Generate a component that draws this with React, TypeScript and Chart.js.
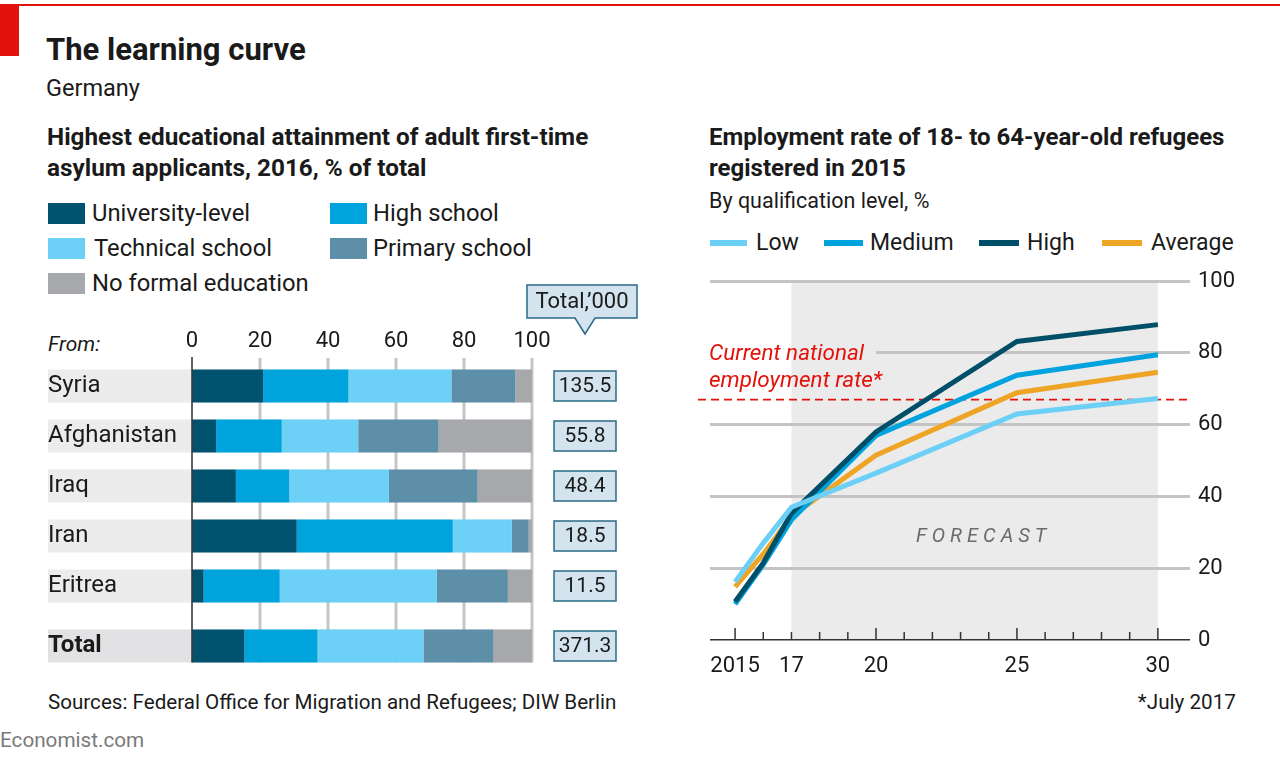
import React, { useEffect, useRef } from 'react';
import { Chart, registerables, CategoryScale } from 'chart.js';

Chart.register(...registerables);

// ---------- DATA ----------
const countries = ['Syria', 'Afghanistan', 'Iraq', 'Iran', 'Eritrea', 'Total'];
const university = [20.9, 7.1, 12.9, 30.8, 3.4, 15.4];
const highSchool = [25.1, 19.3, 15.7, 45.9, 22.4, 21.5];
const technical = [30.3, 22.5, 29.3, 17.4, 46.2, 31.2];
const primary = [18.8, 23.6, 26.1, 4.9, 20.9, 20.5];
const noFormal = [4.9, 27.5, 16.0, 1.0, 7.1, 11.4];
const totals = ['135.5', '55.8', '48.4', '18.5', '11.5', '371.3'];
const barTicks = [0, 20, 40, 60, 80, 100];

const years = [2015, 2016, 2017, 2020, 2025, 2030];
const lowRate = [16.2, 27, 37, 46.5, 63, 67.3];
const mediumRate = [10, 21, 33.5, 57, 73.8, 79.5];
const highRate = [10.7, 21.5, 35.3, 58, 83.2, 87.9];
const averageRate = [14.8, 24, 34.5, 51.5, 68.9, 74.6];
const xTickYears = [2015, 2017, 2020, 2025, 2030];
const xTickLabels = ['2015', '17', '20', '25', '30'];
const majorTickYears = [2015, 2020, 2025, 2030];
const nationalRate = 67;
const forecastStart = 2017;
const forecastEnd = 2030;

// ---------- STYLE ----------
const FONT = 'Roboto';
const C_UNI = '#01526f';
const C_HIGH = '#00a4dc';
const C_TECH = '#6dd0f6';
const C_PRIM = '#5d8fa8';
const C_NONE = '#a7a8ab';
const C_LOW = '#6ccff6';
const C_MED = '#00a3dd';
const C_HI = '#004f69';
const C_AVG = '#eea425';
const RED = '#e3120b';
const TEXT = '#1a1a1a';
const LAST_GAP = 0.2;

class GapCategoryScale extends CategoryScale {
  static id = 'gapCategory';
  getPixelForValue(value: any) {
    const me: any = this;
    if (typeof value !== 'number') value = me.parse(value);
    if (value === null || value === undefined || isNaN(value)) return NaN;
    const v = value >= me.max ? value + LAST_GAP : value;
    return me.getPixelForDecimal((v - me._startValue) / (me._valueRange + LAST_GAP));
  }
}
Chart.register(GapCategoryScale as any);

const leftPlugin = {
  id: 'leftPanel',
  beforeDraw(chart: any) {
    const ctx = chart.ctx;
    const y = chart.scales.y;
    const area = chart.chartArea;
    const meta = chart.getDatasetMeta(0);
    ctx.save();
    countries.forEach((_, i) => {
      const el: any = meta.data[i];
      const cy = y.getPixelForValue(i);
      const h = el ? el.height : 33;
      ctx.fillStyle = i === countries.length - 1 ? '#e2e2e4' : '#ececec';
      ctx.fillRect(48, cy - h / 2, area.right - 48, h);
    });
    ctx.restore();
  },
  beforeDatasetsDraw(chart: any) {
    const ctx = chart.ctx;
    const x = chart.scales.x;
    const y = chart.scales.y;
    const area = chart.chartArea;
    const meta = chart.getDatasetMeta(0);
    const lastEl: any = meta.data[countries.length - 1];
    const bottom = y.getPixelForValue(countries.length - 1) + (lastEl ? lastEl.height / 2 : 16);
    ctx.save();
    barTicks.forEach((t) => {
      const px = x.getPixelForValue(t);
      if (t === 0) return;
      ctx.strokeStyle = '#c6c6c6';
      ctx.lineWidth = 3;
      ctx.beginPath();
      ctx.moveTo(px, area.top - 3);
      ctx.lineTo(px, bottom);
      ctx.stroke();
    });
    ctx.restore();
  },
  afterDraw(chart: any) {
    const ctx = chart.ctx;
    const x = chart.scales.x;
    const y = chart.scales.y;
    const area = chart.chartArea;
    const meta = chart.getDatasetMeta(0);
    const lastEl: any = meta.data[countries.length - 1];
    const bottom = y.getPixelForValue(countries.length - 1) + (lastEl ? lastEl.height / 2 : 16);
    ctx.save();
    // zero axis
    const x0 = x.getPixelForValue(0);
    ctx.strokeStyle = '#3a3a3a';
    ctx.lineWidth = 1.6;
    ctx.beginPath();
    ctx.moveTo(x0, area.top - 4);
    ctx.lineTo(x0, bottom);
    ctx.stroke();
    // total boxes
    const bx = area.right + 53;
    ctx.font = `21px ${FONT}`;
    ctx.textAlign = 'center';
    ctx.textBaseline = 'middle';
    totals.forEach((t, i) => {
      const cy = y.getPixelForValue(i);
      ctx.fillStyle = '#d3e4ee';
      ctx.fillRect(bx - 31, cy - 15, 62, 30);
      ctx.strokeStyle = '#2a6a86';
      ctx.lineWidth = 1.5;
      ctx.strokeRect(bx - 31, cy - 15, 62, 30);
      ctx.fillStyle = TEXT;
      ctx.fillText(t, bx, cy + 1);
    });
    // callout
    const top = area.top - 76;
    ctx.beginPath();
    ctx.moveTo(bx - 58, top);
    ctx.lineTo(bx + 52, top);
    ctx.lineTo(bx + 52, top + 33);
    ctx.lineTo(bx + 10, top + 33);
    ctx.lineTo(bx, top + 49);
    ctx.lineTo(bx - 10, top + 33);
    ctx.lineTo(bx - 58, top + 33);
    ctx.closePath();
    ctx.fillStyle = '#d3e4ee';
    ctx.fill();
    ctx.strokeStyle = '#2a6a86';
    ctx.lineWidth = 1.5;
    ctx.stroke();
    ctx.fillStyle = TEXT;
    ctx.font = `22px ${FONT}`;
    ctx.fillText("Total,\u2019000", bx - 3, top + 17);
    ctx.restore();
  },
};

const rightPlugin = {
  id: 'rightPanel',
  beforeDraw(chart: any) {
    const ctx = chart.ctx;
    const x = chart.scales.x;
    const y = chart.scales.y;
    ctx.save();
    ctx.fillStyle = '#ebebeb';
    const x1 = x.getPixelForValue(forecastStart);
    const x2 = x.getPixelForValue(forecastEnd);
    ctx.fillRect(x1, y.getPixelForValue(100), x2 - x1, y.getPixelForValue(0) - y.getPixelForValue(100));
    ctx.restore();
  },
  beforeDatasetsDraw(chart: any) {
    const ctx = chart.ctx;
    const x = chart.scales.x;
    const y = chart.scales.y;
    const area = chart.chartArea;
    ctx.save();
    // erase gridline behind label
    const gy = y.getPixelForValue(80);
    const xf = x.getPixelForValue(forecastStart);
    const labelEnd = area.left + 166;
    ctx.fillStyle = '#ffffff';
    ctx.fillRect(area.left - 1, gy - 3, xf - area.left + 1, 6);
    ctx.fillStyle = '#ebebeb';
    ctx.fillRect(xf, gy - 3, labelEnd - xf, 6);
    // label
    ctx.fillStyle = RED;
    ctx.font = `italic 22.5px ${FONT}`;
    ctx.textAlign = 'left';
    ctx.textBaseline = 'middle';
    ctx.fillText('Current national', area.left - 1, gy + 1);
    ctx.fillText('employment rate*', area.left - 1, gy + 28);
    // dashed line
    const ry = y.getPixelForValue(nationalRate);
    ctx.strokeStyle = RED;
    ctx.lineWidth = 1.6;
    ctx.setLineDash([8, 5]);
    ctx.beginPath();
    ctx.moveTo(area.left - 12, ry);
    ctx.lineTo(area.right, ry);
    ctx.stroke();
    ctx.setLineDash([]);
    // FORECAST
    ctx.fillStyle = '#6b6b6b';
    ctx.font = `italic 20px ${FONT}`;
    ctx.textAlign = 'center';
    (ctx as any).letterSpacing = '5px';
    ctx.fillText('FORECAST', (xf + x.getPixelForValue(forecastEnd)) / 2 + 9, y.getPixelForValue(28.6));
    (ctx as any).letterSpacing = '0px';
    // tick marks
    const y0 = y.getPixelForValue(0);
    ctx.strokeStyle = '#333';
    ctx.lineWidth = 1.5;
    for (let yr = forecastStart - 2; yr <= forecastEnd; yr++) {
      const px = x.getPixelForValue(yr);
      const len = majorTickYears.includes(yr) ? 12 : 8;
      ctx.beginPath();
      ctx.moveTo(px, y0);
      ctx.lineTo(px, y0 - len);
      ctx.stroke();
    }
    ctx.restore();
  },
};

function LeftChart() {
  const ref = useRef<HTMLCanvasElement>(null);
  useEffect(() => {
    if (!ref.current) return;
    const mk = (label: string, data: number[], color: string) => ({
      label, data, backgroundColor: color, borderWidth: 0,
      barPercentage: 0.66, categoryPercentage: 1,
    });
    const chart = new Chart(ref.current, {
      type: 'bar',
      data: {
        labels: countries,
        datasets: [
          mk('University-level', university, C_UNI),
          mk('High school', highSchool, C_HIGH),
          mk('Technical school', technical, C_TECH),
          mk('Primary school', primary, C_PRIM),
          mk('No formal education', noFormal, C_NONE),
        ],
      },
      options: {
        indexAxis: 'y',
        animation: false,
        responsive: false,
        maintainAspectRatio: false,
        layout: { padding: { left: 48, right: 108, top: 0, bottom: 21 } },
        plugins: { legend: { display: false }, tooltip: { enabled: false } },
        scales: {
          x: {
            type: 'linear',
            position: 'top',
            stacked: true,
            min: 0,
            max: 100,
            afterBuildTicks: (s: any) => { s.ticks = barTicks.map((v) => ({ value: v })); },
            afterFit: (s: any) => { s.height = 89; },
            grid: { display: false, drawTicks: false },
            border: { display: false },
            ticks: { padding: 6, color: TEXT, font: { family: FONT, size: 22 } },
          },
          y: {
            type: 'gapCategory' as any,
            stacked: true,
            afterFit: (s: any) => { s.width = 144; },
            grid: { display: false, drawTicks: false },
            border: { display: false },
            ticks: {
              crossAlign: 'far',
              padding: 0,
              color: TEXT,
              font: (c: any) => ({ family: FONT, size: 24, weight: c.index === countries.length - 1 ? 'bold' : 'normal' }),
            },
          },
        },
      },
      plugins: [leftPlugin],
    });
    return () => chart.destroy();
  }, []);
  return <canvas ref={ref} width={640} height={420} style={{ position: 'absolute', left: 0, top: 272, width: 640, height: 420 }} />;
}

function RightChart() {
  const ref = useRef<HTMLCanvasElement>(null);
  useEffect(() => {
    if (!ref.current) return;
    const mk = (label: string, data: number[], color: string, order: number) => ({
      label, data: years.map((yr, i) => ({ x: yr, y: data[i] })), borderColor: color, backgroundColor: color,
      borderWidth: 5, pointRadius: 0, tension: 0, order, borderCapStyle: 'butt', borderJoinStyle: 'miter',
    });
    const chart = new Chart(ref.current, {
      type: 'line',
      data: {
        datasets: [
          mk('Low', lowRate, C_LOW, 0),
          mk('Medium', mediumRate, C_MED, 2),
          mk('High', highRate, C_HI, 1),
          mk('Average', averageRate, C_AVG, 3),
        ] as any,
      },
      options: {
        animation: false,
        responsive: false,
        maintainAspectRatio: false,
        layout: { padding: { left: 20, right: 0, top: 21, bottom: 0 } },
        plugins: { legend: { display: false }, tooltip: { enabled: false } },
        scales: {
          x: {
            type: 'linear',
            min: 2014.11,
            max: 2031.14,
            afterBuildTicks: (s: any) => { s.ticks = xTickYears.map((v) => ({ value: v })); },
            afterFit: (s: any) => { s.height = 60; },
            grid: { display: false, drawTicks: false },
            border: { display: false },
            ticks: {
              autoSkip: false,
              maxRotation: 0,
              padding: 13,
              color: TEXT,
              font: { family: FONT, size: 22 },
              callback: (v: any) => xTickLabels[xTickYears.indexOf(Number(v))] ?? '',
            },
          },
          y: {
            position: 'right',
            min: 0,
            max: 100,
            afterFit: (s: any) => { s.width = 90; },
            grid: {
              drawTicks: false,
              color: (c: any) => (c.tick && c.tick.value === 0 ? '#333333' : '#c4c4c4'),
              lineWidth: (c: any) => (c.tick && c.tick.value === 0 ? 1.6 : 3),
            },
            border: { display: false },
            ticks: { stepSize: 20, padding: 8, color: TEXT, font: { family: FONT, size: 22 } },
          },
        },
      },
      plugins: [rightPlugin],
    });
    return () => chart.destroy();
  }, []);
  return <canvas ref={ref} width={590} height={440} style={{ position: 'absolute', left: 690, top: 260, width: 590, height: 440 }} />;
}

function T(props: { x: number; y: number; size: number; bold?: boolean; italic?: boolean; color?: string; right?: boolean; children: React.ReactNode }) {
  const s: React.CSSProperties = {
    position: 'absolute',
    top: props.y,
    transform: 'translateY(-50%)',
    fontFamily: FONT,
    fontSize: props.size,
    fontWeight: props.bold ? 700 : 400,
    fontStyle: props.italic ? 'italic' : 'normal',
    color: props.color || TEXT,
    whiteSpace: 'nowrap',
    lineHeight: 1.2,
  };
  if (props.right) s.right = 1280 - props.x; else s.left = props.x;
  return <div style={s}>{props.children}</div>;
}

function Swatch(props: { x: number; y: number; w: number; h: number; color: string }) {
  return <div style={{ position: 'absolute', left: props.x, top: props.y - props.h / 2, width: props.w, height: props.h, background: props.color }} />;
}

export default function App() {
  return (
    <div style={{ position: 'absolute', left: 0, top: 0, width: 1280, height: 761, background: '#fff', overflow: 'hidden' }}>
      <div style={{ position: 'absolute', left: 0, top: 4, width: 1280, height: 1.5, background: RED }} />
      <div style={{ position: 'absolute', left: 0, top: 5, width: 19, height: 51, background: RED }} />
      <T x={46} y={50} size={31} bold>The learning curve</T>
      <T x={46} y={88} size={23.5}>Germany</T>

      <T x={47} y={137} size={24.3} bold>Highest educational attainment of adult first-time</T>
      <T x={47} y={168} size={24.3} bold>asylum applicants, 2016, % of total</T>

      <Swatch x={48} y={213} w={37} h={21} color={C_UNI} />
      <T x={92} y={213} size={23.8}>University-level</T>
      <Swatch x={330} y={213} w={37} h={21} color={C_HIGH} />
      <T x={373} y={213} size={23.8}>High school</T>
      <Swatch x={48} y={248} w={37} h={21} color={C_TECH} />
      <T x={94} y={248} size={23.8}>Technical school</T>
      <Swatch x={330} y={248} w={37} h={21} color={C_PRIM} />
      <T x={373} y={248} size={23.8}>Primary school</T>
      <Swatch x={48} y={283} w={37} h={21} color={C_NONE} />
      <T x={92} y={283} size={23.8}>No formal education</T>

      <T x={48} y={345} size={21} italic>From:</T>

      <T x={48} y={702} size={20.6}>Sources: Federal Office for Migration and Refugees; DIW Berlin</T>
      <T x={0} y={740} size={20.7} color="#7a7a7a">Economist.com</T>

      <T x={709} y={137} size={24} bold>Employment rate of 18- to 64-year-old refugees</T>
      <T x={709} y={168} size={24} bold>registered in 2015</T>
      <T x={709} y={201} size={21.5}>By qualification level, %</T>

      <Swatch x={710} y={243} w={37} h={6} color={C_LOW} />
      <T x={756} y={243} size={23}>Low</T>
      <Swatch x={824} y={243} w={39} h={6} color={C_MED} />
      <T x={870} y={243} size={23}>Medium</T>
      <Swatch x={979} y={243} w={40} h={6} color={C_HI} />
      <T x={1027} y={243} size={23}>High</T>
      <Swatch x={1102} y={243} w={40} h={6} color={C_AVG} />
      <T x={1151} y={243} size={23}>Average</T>

      <T x={1236} y={702} size={20.7} right>*July 2017</T>

      <LeftChart />
      <RightChart />
    </div>
  );
}
